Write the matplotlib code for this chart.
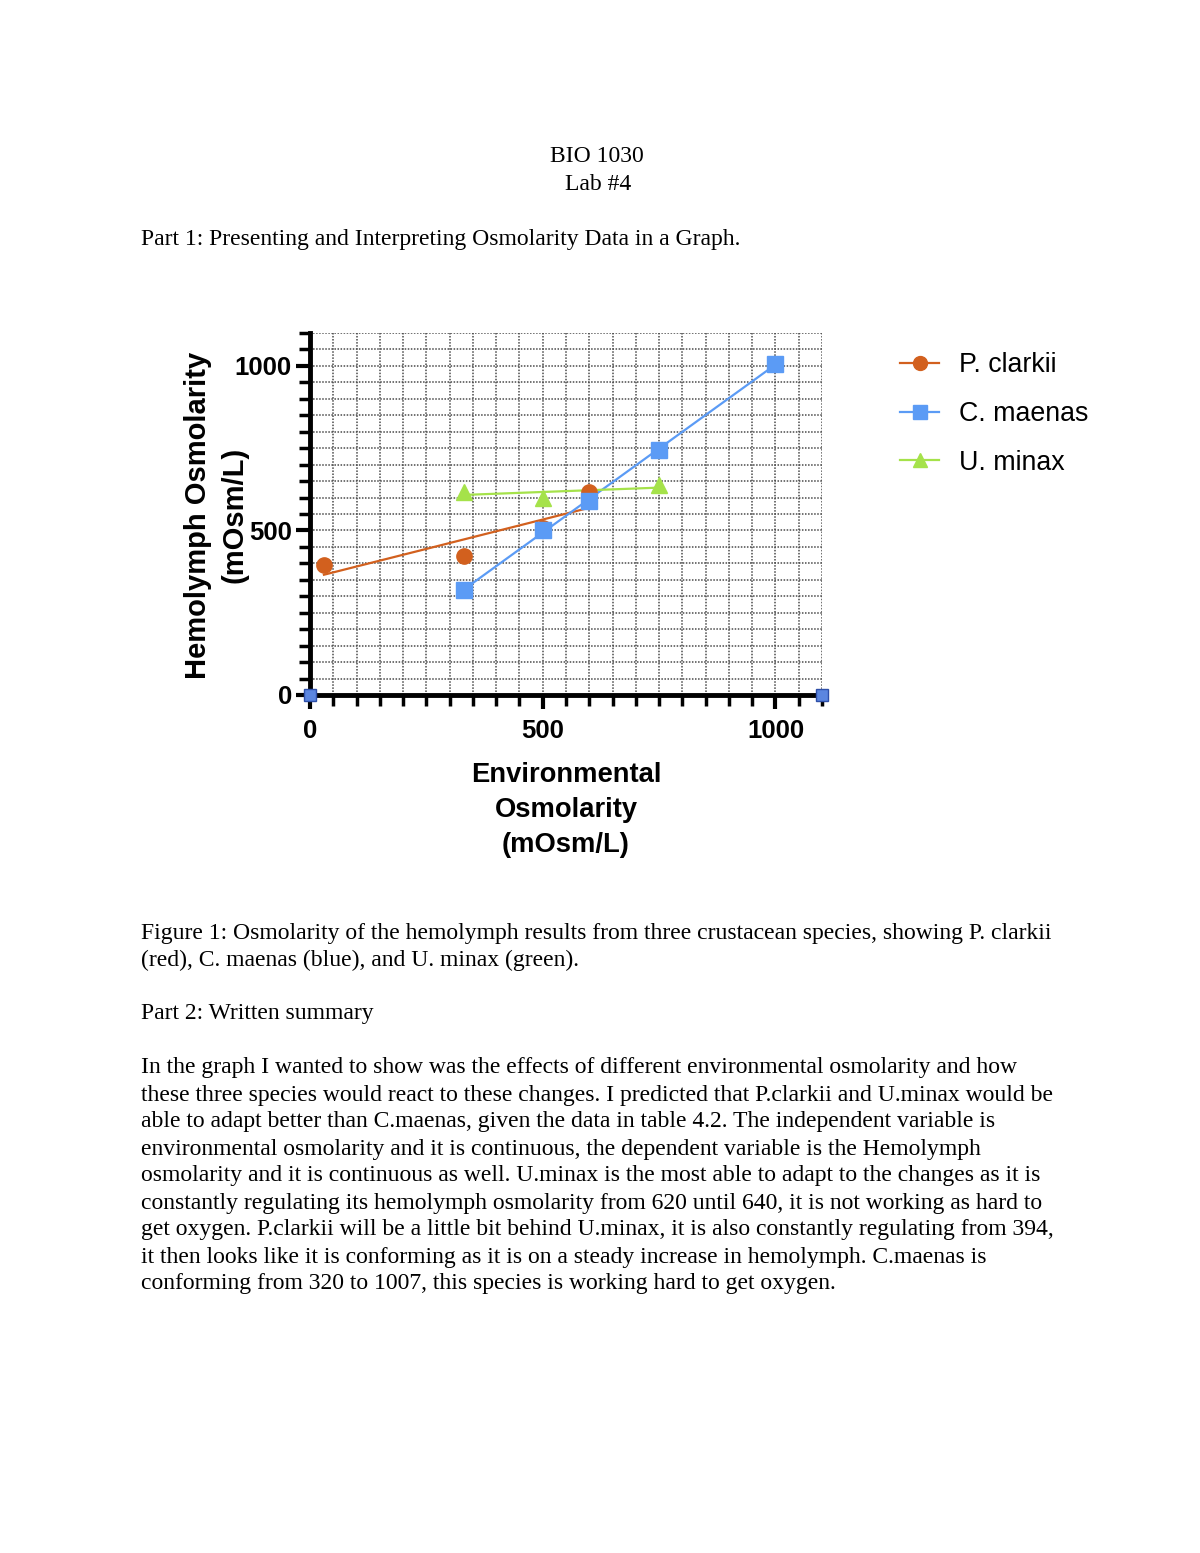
import numpy as np
import matplotlib.pyplot as plt
from matplotlib.lines import Line2D

# data
clarkii_x = [30, 330, 500, 600]
clarkii_y = [394, 422, 507, 617]
maenas_x = [330, 500, 600, 750, 1000]
maenas_y = [320, 500, 590, 745, 1007]
minax_x = [330, 500, 750]
minax_y = [618, 600, 637]
corner_x = [0, 1100]
corner_y = [0, 0]

species = ["P. clarkii", "C. maenas", "U. minax"]
colors = ["#D2601E", "#5B9BF5", "#A5E24A"]
markers = ["o", "s", "^"]

page_lines = [
    "In the graph I wanted to show was the effects of different environmental osmolarity and how",
    "these three species would react to these changes. I predicted that P.clarkii and U.minax would be",
    "able to adapt better than C.maenas, given the data in table 4.2. The independent variable is",
    "environmental osmolarity and it is continuous, the dependent variable is the Hemolymph",
    "osmolarity and it is continuous as well. U.minax is the most able to adapt to the changes as it is",
    "constantly regulating its hemolymph osmolarity from 620 until 640, it is not working as hard to",
    "get oxygen. P.clarkii will be a little bit behind U.minax, it is also constantly regulating from 394,",
    "it then looks like it is conforming as it is on a steady increase in hemolymph. C.maenas is",
    "conforming from 320 to 1007, this species is working hard to get oxygen.",
]
caption_lines = [
    "Figure 1: Osmolarity of the hemolymph results from three crustacean species, showing P. clarkii",
    "(red), C. maenas (blue), and U. minax (green).",
]

W, H = 1200, 1553
fig = plt.figure(figsize=(W / 100, H / 100), dpi=100)


def fx(px):
    return px / W


def fy(py):
    return 1 - py / H


serif = "Liberation Serif"
sans = "Liberation Sans"
doc_size = 17

fig.text(fx(597), fy(157), "BIO 1030", family=serif, fontsize=doc_size, ha="center", va="center")
fig.text(fx(598), fy(184), "Lab #4", family=serif, fontsize=doc_size, ha="center", va="center")
fig.text(fx(141), fy(239), "Part 1: Presenting and Interpreting Osmolarity Data in a Graph.",
         family=serif, fontsize=doc_size, ha="left", va="center")
for i, line in enumerate(caption_lines):
    fig.text(fx(141), fy(933 + 27 * i), line, family=serif, fontsize=doc_size, ha="left", va="center")
fig.text(fx(141), fy(1014), "Part 2: Written summary", family=serif, fontsize=doc_size, ha="left", va="center")
for i, line in enumerate(page_lines):
    fig.text(fx(141), fy(1068 + 27 * i), line, family=serif, fontsize=doc_size, ha="left", va="center")

# chart
ax = fig.add_axes([fx(310), fy(695), (822 - 310) / W, (695 - 333) / H])
ax.set_xlim(0, 1100)
ax.set_ylim(0, 1100)

series = [(clarkii_x, clarkii_y), (maenas_x, maenas_y), (minax_x, minax_y)]
for (xs, ys), c, m in zip(series, colors, markers):
    xs = np.array(xs)
    ys = np.array(ys)
    slope, icpt = np.polyfit(xs, ys, 1)
    xl = np.array([xs.min(), xs.max()])
    ax.plot(xl, slope * xl + icpt, color=c, lw=1.6, zorder=3)
    ax.plot(xs, ys, linestyle="none", marker=m, color=c, markersize=11, zorder=4)

ax.plot(corner_x, corner_y, linestyle="none", marker="s", markersize=9,
        markerfacecolor="#5B86E0", markeredgecolor="#2E4FA8", markeredgewidth=1, clip_on=False, zorder=6)

ax.set_xticks([0, 500, 1000])
ax.set_yticks([0, 500, 1000])
ax.set_xticks(np.arange(0, 1101, 50), minor=True)
ax.set_yticks(np.arange(0, 1101, 50), minor=True)
ax.grid(which="both", linestyle=(0, (1, 1)), color="#4a4a4a", linewidth=1.1)
ax.set_axisbelow(True)

for s in ["top", "right"]:
    ax.spines[s].set_visible(False)
for s in ["left", "bottom"]:
    ax.spines[s].set_linewidth(3.5)
ax.tick_params(which="major", direction="out", length=10, width=3, pad=3)
ax.tick_params(which="minor", direction="out", length=8, width=2.5)
ax.tick_params(axis="x", which="major", pad=7)
for lbl in ax.get_xticklabels() + ax.get_yticklabels():
    lbl.set_fontfamily(sans)
    lbl.set_fontweight("bold")
    lbl.set_fontsize(18.5)

fig.text(fx(198), fy(515), "Hemolymph Osmolarity", family=sans, fontweight="bold",
         fontsize=21, rotation=90, ha="center", va="center")
fig.text(fx(235), fy(515), "(mOsm/L)", family=sans, fontweight="bold",
         fontsize=21, rotation=90, ha="center", va="center")
for i, part in enumerate(["Environmental", "Osmolarity", "(mOsm/L)"]):
    fig.text(fx(566), fy(775 + 35 * i), part, family=sans, fontweight="bold",
             fontsize=19.7, ha="center", va="center")

handles = [Line2D([], [], color=c, marker=m, markersize=10, lw=1.6) for c, m in zip(colors, markers)]
fig.legend(handles, species, loc="upper left", bbox_to_anchor=(fx(876), fy(328)), frameon=False,
           prop={"family": sans, "size": 19.3}, handlelength=1.45, handletextpad=0.75, labelspacing=0.85)

fig.savefig("out.png", dpi=100)
